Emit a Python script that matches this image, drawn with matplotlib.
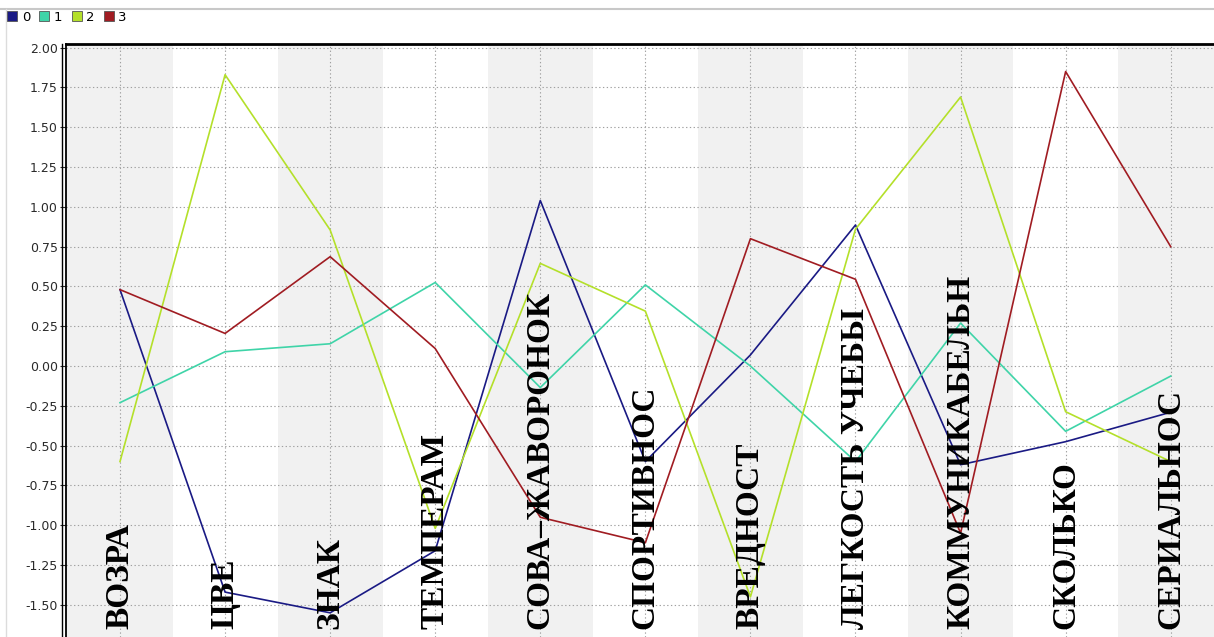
import matplotlib
matplotlib.use("Agg")
import matplotlib.pyplot as plt
from matplotlib.patches import Patch
from matplotlib.lines import Line2D
import matplotlib.transforms as mtransforms

categories = ['ВОЗРА', 'ЦВЕ', 'ЗНАК', 'ТЕМПЕРАМ', 'СОВА–ЖАВОРОНОК', 'СПОРТИВНОС',
              'ВРЕДНОСТ', 'ЛЕГКОСТЬ УЧЕБЫ', 'КОММУНИКАБЕЛЬН', 'СКОЛЬКО', 'СЕРИАЛЬНОС']
series_names = ['0', '1', '2', '3']
s0 = [0.48, -1.42, -1.55, -1.16, 1.04, -0.60, 0.07, 0.886, -0.62, -0.475, -0.29]
s1 = [-0.23, 0.09, 0.14, 0.525, -0.135, 0.51, 0.0, -0.60, 0.27, -0.41, -0.063]
s2 = [-0.60, 1.83, 0.855, -1.02, 0.645, 0.345, -1.45, 0.86, 1.69, -0.287, -0.60]
s3 = [0.48, 0.205, 0.687, 0.11, -0.95, -1.11, 0.80, 0.545, -1.05, 1.85, 0.75]
yticks = [-1.50, -1.25, -1.00, -0.75, -0.50, -0.25, 0.00, 0.25, 0.50, 0.75, 1.00, 1.25, 1.50, 1.75, 2.00]

colors = ['#1a1a84', '#3fd4a8', '#b4e02a', '#a01c22']
series = [s0, s1, s2, s3]

W, H = 1214, 637
fig = plt.figure(figsize=(W / 100, H / 100), dpi=100)
fig.patch.set_facecolor('white')

left_px, top_px = 66, 44
ax = fig.add_axes([left_px / W, 0, 1 - left_px / W, (H - top_px) / H])
n = len(categories)
xs = list(range(n))

# alternating bands
for i in xs:
    if i % 2 == 0:
        ax.axvspan(i - 0.5, i + 0.5, color='#f1f1f1', zorder=0, lw=0)

ax.set_xlim(-0.514, 10.412)
ax.set_ylim(-1.702, 2.023)
ax.set_yticks(yticks)
ax.set_yticklabels([f'{v:.2f}' for v in yticks])
ax.set_xticks(xs)
ax.tick_params(axis='x', length=0, labelbottom=False)
ax.tick_params(axis='y', length=4, width=0.8, pad=2, labelsize=9, colors='#2a2a2a')
ax.grid(True, color='#a0a0a0', linestyle=(0, (1.2, 2.2)), linewidth=0.8, zorder=1)
ax.set_axisbelow(True)

for s, c in zip(series, colors):
    ax.plot(xs, s, color=c, lw=1.2, zorder=3)

ax.spines['right'].set_visible(False)
ax.spines['bottom'].set_visible(False)
ax.spines['top'].set_linewidth(2.0)
ax.spines['left'].set_linewidth(1.3)

# category labels inside plot
trans = mtransforms.blended_transform_factory(ax.transData, ax.transAxes)
for i, name in zip(xs, categories):
    ax.text(i, 0.014, name, transform=trans, rotation=90, ha='center', va='bottom',
            fontsize=24, fontweight='bold', family=['Liberation Serif', 'DejaVu Serif'],
            color='black', zorder=5)

# double left border line
fig.add_artist(Line2D([(left_px - 4) / W] * 2, [0, (H - top_px) / H], color='black', lw=1.0,
                      transform=fig.transFigure))
# light window frame
fig.add_artist(Line2D([0, 1], [1 - 9 / H] * 2, color='#c8c8c8', lw=1.5, transform=fig.transFigure))
fig.add_artist(Line2D([6 / W] * 2, [0, 1 - 9 / H], color='#dcdcdc', lw=1.0, transform=fig.transFigure))

handles = [Patch(facecolor=c, edgecolor='#555555', lw=0.6) for c in colors]
fig.legend(handles, series_names, loc='upper left', bbox_to_anchor=(0.006, 0.983), ncol=4,
           frameon=False, fontsize=9.5, handlelength=0.75, handleheight=0.75, handletextpad=0.35,
           columnspacing=0.7, borderaxespad=0, borderpad=0)

fig.savefig('out.png', dpi=100)
